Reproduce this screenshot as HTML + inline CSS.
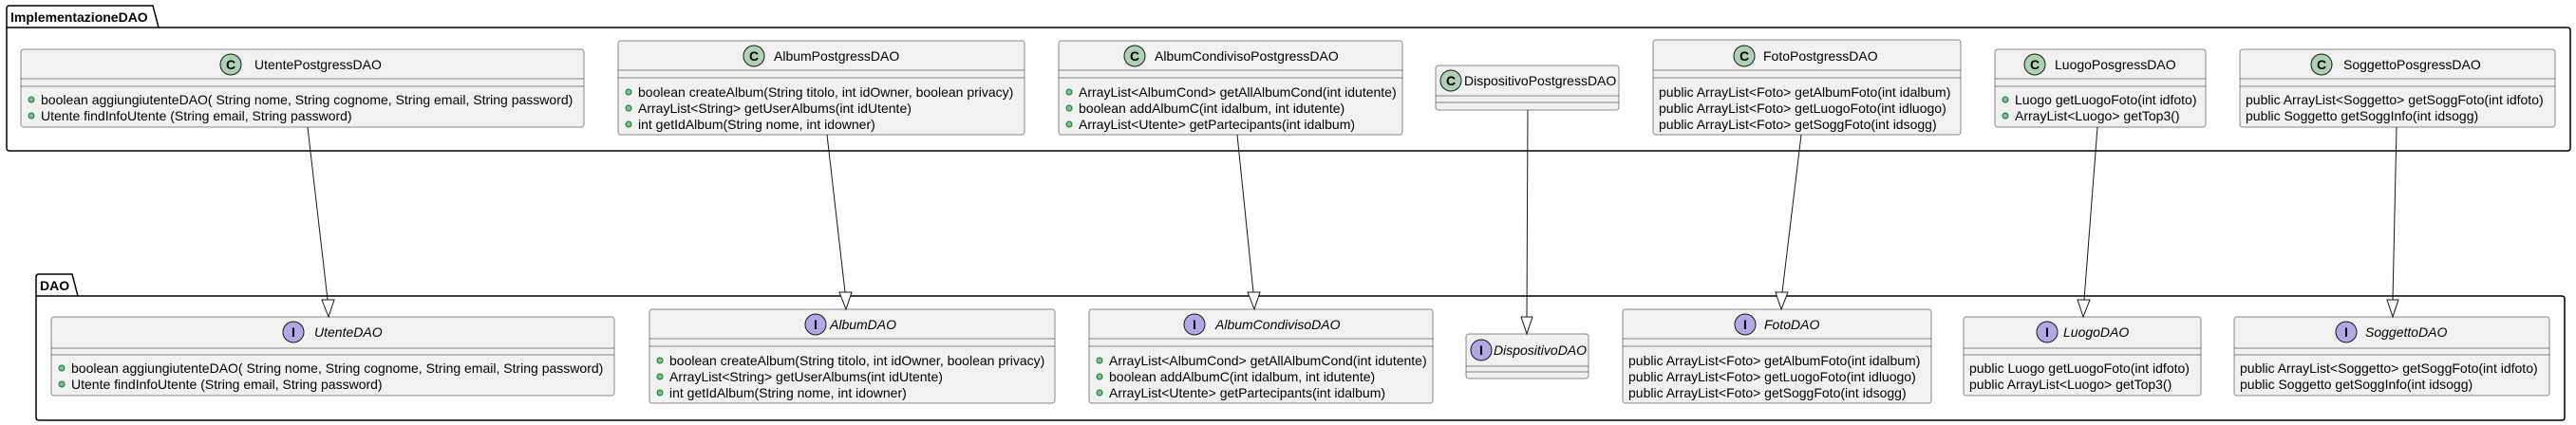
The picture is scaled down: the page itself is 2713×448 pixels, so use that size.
<!DOCTYPE html>
<html><head><meta charset="utf-8"><style>
html,body{margin:0;padding:0;background:#fff}
svg{display:block}
text{font-family:"Liberation Sans",sans-serif;font-size:14px;fill:#000}
.b{fill:#F1F1F1;stroke:#181818;stroke-width:0.5}
.s{stroke:#181818;stroke-width:0.5}
.cc{fill:#ADD1B2;stroke:#181818;stroke-width:1}
.ci{fill:#B4A7E5;stroke:#181818;stroke-width:1}
.g{fill:#84BE84;stroke:#038048;stroke-width:1}
.pk{fill:none;stroke:#000;stroke-width:1.5}
.ar{stroke:#181818;stroke-width:1;fill:none}
.ah{fill:#fff;stroke:#181818;stroke-width:1}
.it{font-style:italic}
.gl{font-weight:bold;text-anchor:middle}
</style></head><body>
<svg width="2713" height="448" viewBox="0 0 2713 448" xmlns="http://www.w3.org/2000/svg">
<!-- packages -->
<path class="pk" d="M7,29 L7,9 Q7,6 10,6 L161,6 L167,29 M7,29 L2704,29 Q2707,29 2707,32 L2707,156 Q2707,159 2704,159 L10,159 Q7,159 7,156 Z"/>
<text x="11" y="23" style="font-weight:bold">ImplementazioneDAO</text>
<path class="pk" d="M38,312 L38,292 Q38,289 41,289 L76,289 L82,312 M38,312 L2698,312 Q2701,312 2701,315 L2701,440 Q2701,443 2698,443 L41,443 Q38,443 38,440 Z"/>
<text x="42" y="306" style="font-weight:bold">DAO</text>

<!-- Top classes -->
<rect class="b" x="22" y="52" width="593" height="82" rx="2.5"/>
<line class="s" x1="22" y1="83" x2="615" y2="83"/><line class="s" x1="22" y1="91" x2="615" y2="91"/>
<circle class="cc" cx="243" cy="68" r="11"/><text class="gl" x="243" y="73">C</text>
<text x="268" y="73">UtentePostgressDAO</text>
<circle class="g" cx="33" cy="105" r="3"/><text x="43" y="110">boolean aggiungiutenteDAO( String nome, String cognome, String email, String password)</text>
<circle class="g" cx="33" cy="122" r="3"/><text x="43" y="127">Utente findInfoUtente (String email, String password)</text>

<rect class="b" x="651" y="43" width="428" height="99" rx="2.5"/>
<line class="s" x1="651" y1="74" x2="1079" y2="74"/><line class="s" x1="651" y1="82" x2="1079" y2="82"/>
<circle class="cc" cx="794" cy="59" r="11"/><text class="gl" x="794" y="64">C</text>
<text x="815" y="64">AlbumPostgressDAO</text>
<circle class="g" cx="662" cy="97" r="3"/><text x="672" y="102">boolean createAlbum(String titolo, int idOwner, boolean privacy)</text>
<circle class="g" cx="662" cy="114" r="3"/><text x="672" y="119">ArrayList&lt;String&gt; getUserAlbums(int idUtente)</text>
<circle class="g" cx="662" cy="131" r="3"/><text x="672" y="136">int getIdAlbum(String nome, int idowner)</text>

<rect class="b" x="1115" y="43" width="362" height="99" rx="2.5"/>
<line class="s" x1="1115" y1="74" x2="1477" y2="74"/><line class="s" x1="1115" y1="82" x2="1477" y2="82"/>
<circle class="cc" cx="1195" cy="59" r="11"/><text class="gl" x="1195" y="64">C</text>
<text x="1216" y="64">AlbumCondivisoPostgressDAO</text>
<circle class="g" cx="1126" cy="97" r="3"/><text x="1136" y="102">ArrayList&lt;AlbumCond&gt; getAllAlbumCond(int idutente)</text>
<circle class="g" cx="1126" cy="114" r="3"/><text x="1136" y="119">boolean addAlbumC(int idalbum, int idutente)</text>
<circle class="g" cx="1126" cy="131" r="3"/><text x="1136" y="136">ArrayList&lt;Utente&gt; getPartecipants(int idalbum)</text>

<rect class="b" x="1512" y="69" width="193" height="47" rx="2.5"/>
<line class="s" x1="1512" y1="101" x2="1705" y2="101"/><line class="s" x1="1512" y1="108" x2="1705" y2="108"/>
<circle class="cc" cx="1528" cy="85" r="11"/><text class="gl" x="1528" y="90">C</text>
<text x="1542" y="90">DispositivoPostgressDAO</text>

<rect class="b" x="1741" y="42" width="324" height="100" rx="2.5"/>
<line class="s" x1="1741" y1="74" x2="2065" y2="74"/><line class="s" x1="1741" y1="82" x2="2065" y2="82"/>
<circle class="cc" cx="1837" cy="59" r="11"/><text class="gl" x="1837" y="64">C</text>
<text x="1857" y="64">FotoPostgressDAO</text>
<text x="1747" y="102">public ArrayList&lt;Foto&gt; getAlbumFoto(int idalbum)</text>
<text x="1747" y="119">public ArrayList&lt;Foto&gt; getLuogoFoto(int idluogo)</text>
<text x="1747" y="136">public ArrayList&lt;Foto&gt; getSoggFoto(int idsogg)</text>

<rect class="b" x="2101" y="52" width="222" height="82" rx="2.5"/>
<line class="s" x1="2101" y1="83" x2="2323" y2="83"/><line class="s" x1="2101" y1="91" x2="2323" y2="91"/>
<circle class="cc" cx="2143" cy="68" r="11"/><text class="gl" x="2143" y="73">C</text>
<text x="2164" y="73">LuogoPosgressDAO</text>
<circle class="g" cx="2112" cy="105" r="3"/><text x="2122" y="110">Luogo getLuogoFoto(int idfoto)</text>
<circle class="g" cx="2112" cy="122" r="3"/><text x="2122" y="127">ArrayList&lt;Luogo&gt; getTop3()</text>

<rect class="b" x="2359" y="52" width="332" height="82" rx="2.5"/>
<line class="s" x1="2359" y1="83" x2="2691" y2="83"/><line class="s" x1="2359" y1="91" x2="2691" y2="91"/>
<circle class="cc" cx="2445" cy="68" r="11"/><text class="gl" x="2445" y="73">C</text>
<text x="2468" y="73">SoggettoPosgressDAO</text>
<text x="2365" y="110">public ArrayList&lt;Soggetto&gt; getSoggFoto(int idfoto)</text>
<text x="2365" y="127">public Soggetto getSoggInfo(int idsogg)</text>

<!-- Bottom interfaces -->
<rect class="b" x="54" y="334" width="593" height="83" rx="2.5"/>
<line class="s" x1="54" y1="367" x2="647" y2="367"/><line class="s" x1="54" y1="374" x2="647" y2="374"/>
<circle class="ci" cx="309" cy="350" r="11"/><text class="gl" x="309" y="355">I</text>
<text class="it" x="331" y="355">UtenteDAO</text>
<circle class="g" cx="65" cy="388" r="3"/><text x="75" y="393">boolean aggiungiutenteDAO( String nome, String cognome, String email, String password)</text>
<circle class="g" cx="65" cy="405" r="3"/><text x="75" y="410">Utente findInfoUtente (String email, String password)</text>

<rect class="b" x="684" y="326" width="427" height="99" rx="2.5"/>
<line class="s" x1="684" y1="357" x2="1111" y2="357"/><line class="s" x1="684" y1="365" x2="1111" y2="365"/>
<circle class="ci" cx="859" cy="342" r="11"/><text class="gl" x="859" y="347">I</text>
<text class="it" x="874" y="347">AlbumDAO</text>
<circle class="g" cx="695" cy="380" r="3"/><text x="705" y="385">boolean createAlbum(String titolo, int idOwner, boolean privacy)</text>
<circle class="g" cx="695" cy="397" r="3"/><text x="705" y="402">ArrayList&lt;String&gt; getUserAlbums(int idUtente)</text>
<circle class="g" cx="695" cy="414" r="3"/><text x="705" y="419">int getIdAlbum(String nome, int idowner)</text>

<rect class="b" x="1147" y="326" width="362" height="99" rx="2.5"/>
<line class="s" x1="1147" y1="357" x2="1509" y2="357"/><line class="s" x1="1147" y1="365" x2="1509" y2="365"/>
<circle class="ci" cx="1258" cy="342" r="11"/><text class="gl" x="1258" y="347">I</text>
<text class="it" x="1280" y="347">AlbumCondivisoDAO</text>
<circle class="g" cx="1158" cy="380" r="3"/><text x="1168" y="385">ArrayList&lt;AlbumCond&gt; getAllAlbumCond(int idutente)</text>
<circle class="g" cx="1158" cy="397" r="3"/><text x="1168" y="402">boolean addAlbumC(int idalbum, int idutente)</text>
<circle class="g" cx="1158" cy="414" r="3"/><text x="1168" y="419">ArrayList&lt;Utente&gt; getPartecipants(int idalbum)</text>

<rect class="b" x="1544" y="352" width="129" height="47" rx="2.5"/>
<line class="s" x1="1544" y1="386" x2="1673" y2="386"/><line class="s" x1="1544" y1="392" x2="1673" y2="392"/>
<circle class="ci" cx="1560" cy="369" r="11"/><text class="gl" x="1560" y="374">I</text>
<text class="it" x="1573" y="374">DispositivoDAO</text>

<rect class="b" x="1709" y="326" width="325" height="99" rx="2.5"/>
<line class="s" x1="1709" y1="357" x2="2034" y2="357"/><line class="s" x1="1709" y1="365" x2="2034" y2="365"/>
<circle class="ci" cx="1838" cy="342" r="11"/><text class="gl" x="1838" y="347">I</text>
<text class="it" x="1858" y="347">FotoDAO</text>
<text x="1715" y="385">public ArrayList&lt;Foto&gt; getAlbumFoto(int idalbum)</text>
<text x="1715" y="402">public ArrayList&lt;Foto&gt; getLuogoFoto(int idluogo)</text>
<text x="1715" y="419">public ArrayList&lt;Foto&gt; getSoggFoto(int idsogg)</text>

<rect class="b" x="2068" y="334" width="250" height="83" rx="2.5"/>
<line class="s" x1="2068" y1="367" x2="2318" y2="367"/><line class="s" x1="2068" y1="374" x2="2318" y2="374"/>
<circle class="ci" cx="2156" cy="350" r="11"/><text class="gl" x="2156" y="355">I</text>
<text class="it" x="2173" y="355">LuogoDAO</text>
<text x="2074" y="393">public Luogo getLuogoFoto(int idfoto)</text>
<text x="2074" y="410">public ArrayList&lt;Luogo&gt; getTop3()</text>

<rect class="b" x="2353" y="334" width="332" height="83" rx="2.5"/>
<line class="s" x1="2353" y1="367" x2="2685" y2="367"/><line class="s" x1="2353" y1="374" x2="2685" y2="374"/>
<circle class="ci" cx="2471" cy="350" r="11"/><text class="gl" x="2471" y="355">I</text>
<text class="it" x="2491" y="355">SoggettoDAO</text>
<text x="2359" y="393">public ArrayList&lt;Soggetto&gt; getSoggFoto(int idfoto)</text>
<text x="2359" y="410">public Soggetto getSoggInfo(int idsogg)</text>

<!-- Arrows -->
<line class="ar" x1="324" y1="134" x2="345" y2="316"/><polygon class="ah" points="346,334 339,316 352,316"/>
<line class="ar" x1="871" y1="142" x2="890" y2="308"/><polygon class="ah" points="891,326 884,308 897,308"/>
<line class="ar" x1="1303" y1="142" x2="1320" y2="308"/><polygon class="ah" points="1321,326 1314,308 1327,308"/>
<line class="ar" x1="1609" y1="116" x2="1608" y2="334"/><polygon class="ah" points="1608,352 1602,334 1614,334"/>
<line class="ar" x1="1897" y1="142" x2="1877" y2="308"/><polygon class="ah" points="1876,326 1870,308 1883,308"/>
<line class="ar" x1="2209" y1="134" x2="2195" y2="316"/><polygon class="ah" points="2194,334 2188,316 2201,316"/>
<line class="ar" x1="2524" y1="134" x2="2520" y2="316"/><polygon class="ah" points="2520,334 2514,316 2526,316"/>
</svg>
</body></html>
